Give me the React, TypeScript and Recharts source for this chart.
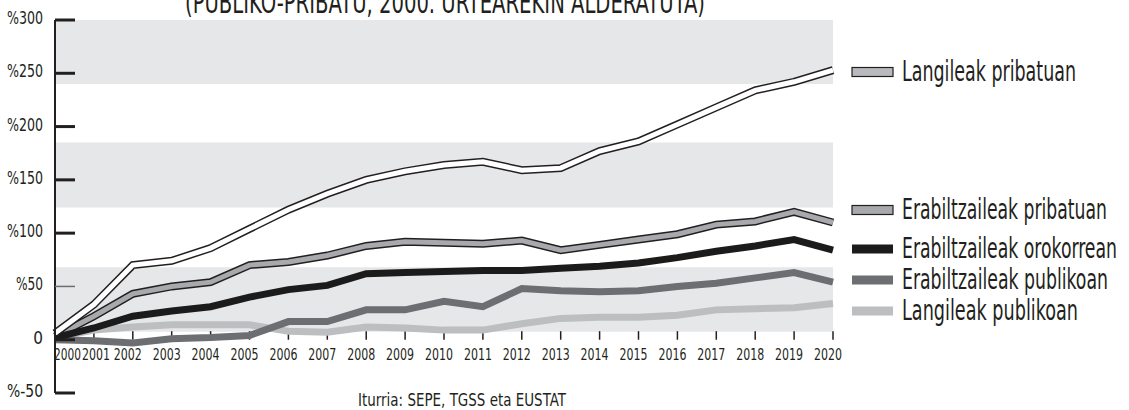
import React from 'react';
import { LineChart, Line, XAxis, YAxis, ReferenceArea, ReferenceLine, ReferenceDot } from 'recharts';

// Hazkundea 2000. urtearekiko (%)
const years = ['2000', '2001', '2002', '2003', '2004', '2005', '2006', '2007', '2008', '2009', '2010',
  '2011', '2012', '2013', '2014', '2015', '2016', '2017', '2018', '2019', '2020'];

const langileakPribatuan = [6, 33, 70, 74, 86, 104, 122, 137, 150, 158, 164, 167, 159, 161, 177, 186, 202, 218, 234, 242, 253];
const erabiltzaileakPribatuan = [3, 22, 43, 50, 54, 70, 73, 79, 88, 92, 91, 90, 93, 84, 89, 94, 99, 108, 111, 120, 110];
const erabiltzaileakOrokorrean = [2, 11, 22, 27, 31, 40, 47, 51, 62, 63, 64, 65, 65, 67, 69, 72, 77, 83, 88, 94, 84];
const erabiltzaileakPublikoan = [0, -1, -3, 1, 2, 4, 17, 17, 28, 28, 36, 31, 48, 46, 45, 46, 50, 53, 58, 63, 54];
const langileakPublikoan = [2, 9, 12, 14, 14, 14, 8, 7, 12, 11, 9, 9, 15, 20, 21, 21, 23, 28, 29, 30, 34];

const yTicks = [-50, 0, 50, 100, 150, 200, 250, 300];

// gray background bands (value ranges)
const bands = [
  [240, 300],
  [124, 185],
  [7.5, 68],
];

const data = years.map((year, i) => ({
  year,
  lp: langileakPribatuan[i],
  ep: erabiltzaileakPribatuan[i],
  eo: erabiltzaileakOrokorrean[i],
  epub: erabiltzaileakPublikoan[i],
  lpub: langileakPublikoan[i],
}));

const legendItems = [
  { name: 'Langileak pribatuan', fill: '#b9babd', stroke: '#231f20', y: 72, w: 174 },
  { name: 'Erabiltzaileak pribatuan', fill: '#a7a9ac', stroke: '#231f20', y: 210, w: 205 },
  { name: 'Erabiltzaileak orokorrean', fill: '#1b1b1b', stroke: 'none', y: 249, w: 215 },
  { name: 'Erabiltzaileak publikoan', fill: '#6d6e71', stroke: 'none', y: 280, w: 206 },
  { name: 'Langileak publikoan', fill: '#bcbec0', stroke: 'none', y: 311, w: 176 },
];

const FONT = "'Liberation Sans Narrow', 'DejaVu Sans Condensed', Roboto, sans-serif";
const INK = '#231f20';

const YTick = (props: any) => {
  const { x, y, payload } = props;
  const v = payload.value;
  const thin = v === 50;
  return (
    <g>
      <line x1={x} x2={x + 20} y1={y} y2={y} stroke={thin ? '#6d6e71' : INK} strokeWidth={thin ? 1.5 : 3} />
      <text x={x - 12} y={y + 4} textAnchor="end" fontFamily={FONT} fontSize={17} fill={INK}
        textLength={v === 0 ? undefined : v === 50 ? 27 : 36} lengthAdjust="spacingAndGlyphs">
        {v === 0 ? '0' : `%${v}`}
      </text>
    </g>
  );
};

const xLabel = (year: string, i: number) => (p: any) => {
  const vb = p.viewBox || {};
  const first = i === 0;
  const dx = i === 1 ? 2 : -5;
  return (
    <text x={first ? vb.x - 1 : vb.x + dx} y={vb.y + 20} textAnchor={first ? 'start' : 'middle'}
      fontFamily={FONT} fontSize={15} fill={INK} textLength={first ? 27 : 28} lengthAdjust="spacingAndGlyphs">
      {year}
    </text>
  );
};

const line = { type: 'linear' as const, dot: false, activeDot: false, isAnimationActive: false, strokeLinejoin: 'miter' as const, strokeLinecap: 'butt' as const };

export default function App() {
  return (
    <div style={{ position: 'absolute', left: 0, top: 0, width: 1129, height: 410, background: '#fff' }}>
      <LineChart width={1129} height={410} data={data} margin={{ top: 20, right: 291, bottom: 17, left: 0 }}>
        {bands.map(([a, b]) => (
          <ReferenceArea key={a} y1={a} y2={b} fill="#e6e7e8" fillOpacity={1} stroke="none" />
        ))}
        <XAxis dataKey="year" hide padding={{ left: 0, right: 5 }} />
        <YAxis domain={[-50, 300]} ticks={yTicks} width={55} interval={0} tickSize={0} tickMargin={0}
          axisLine={{ stroke: INK, strokeWidth: 2 }} tickLine={false} tick={<YTick />} />
        {years.map((year) => (
          <ReferenceLine key={'t' + year} segment={[{ x: year, y: 0 }, { x: year, y: 8 }]} stroke={INK} strokeWidth={1.5} />
        ))}
        {years.map((year, i) => (
          <ReferenceDot key={'l' + year} x={year} y={0} r={0} fill="none" stroke="none" label={xLabel(year, i)} />
        ))}
        <Line dataKey="lpub" stroke="#bcbec0" strokeWidth={7} {...line} />
        <Line dataKey="epub" stroke="#6d6e71" strokeWidth={7} {...line} />
        <Line dataKey="ep" stroke={INK} strokeWidth={8} {...line} />
        <Line dataKey="ep" stroke="#a7a9ac" strokeWidth={5} {...line} />
        <Line dataKey="eo" stroke="#1b1b1b" strokeWidth={7} {...line} />
        <Line dataKey="lp" stroke={INK} strokeWidth={8} {...line} />
        <Line dataKey="lp" stroke="#ffffff" strokeWidth={5} {...line} />
      </LineChart>
      <svg width={1129} height={410} style={{ position: 'absolute', left: 0, top: 0, pointerEvents: 'none' }}>
        <text x={185} y={13} fontFamily={FONT} fontSize={30} fill={INK} textLength={520} lengthAdjust="spacingAndGlyphs">
          (PUBLIKO-PRIBATU, 2000. URTEAREKIN ALDERATUTA)
        </text>
        {legendItems.map((it) => (
          <g key={it.name}>
            <rect x={852} y={it.y - 4.5} width={41} height={9} fill={it.fill} stroke={it.stroke} strokeWidth={1.2} />
            <text x={902} y={it.y + 9} fontFamily={FONT} fontSize={28} fill={INK} textLength={it.w} lengthAdjust="spacingAndGlyphs">
              {it.name}
            </text>
          </g>
        ))}
        <text x={358} y={406} fontFamily={FONT} fontSize={18} fill={INK} textLength={208} lengthAdjust="spacingAndGlyphs">
          Iturria: SEPE, TGSS eta EUSTAT
        </text>
      </svg>
    </div>
  );
}
